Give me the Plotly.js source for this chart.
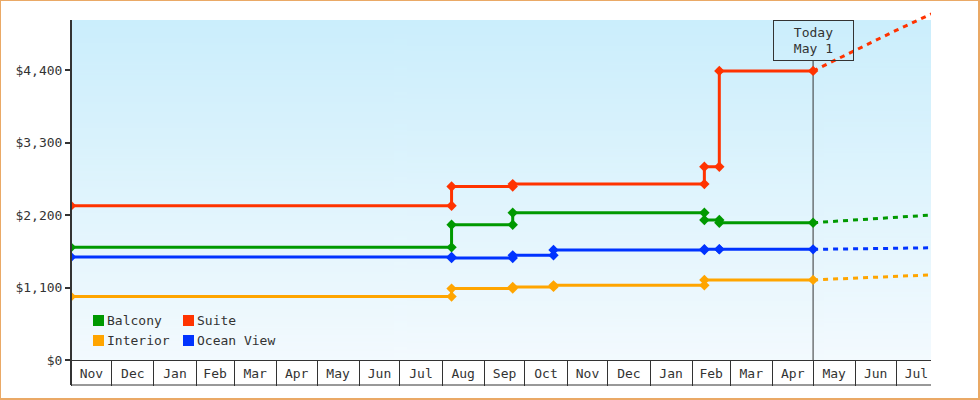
<!DOCTYPE html>
<html>
<head>
<meta charset="utf-8">
<script src="https://cdn.plot.ly/plotly-3.0.1.min.js"></script>
<style>
  body { margin: 0; background: #fff; }
  #wrap { position: relative; width: 980px; height: 400px; }
  #chart { width: 980px; height: 400px; }
  #frame { position: absolute; left: 0; top: 0; right: 0; bottom: 0; box-sizing: border-box;
           border-style: solid; border-color: #eaa966; border-width: 1px 2px 2px 1px; pointer-events: none; }
</style>
</head>
<body>
<div id="wrap"><div id="chart"></div><div id="frame"></div></div>
<script>
// price history, each level starts at its date and holds until the next one (or today)
const seriesNames = ['Balcony', 'Suite', 'Interior', 'Ocean View'];
const seriesColors = ['#009900', '#ff3300', '#ffa500', '#0033ff'];

const balconyDates = ['2013-11-01', '2014-08-08', '2014-09-22', '2015-02-10', '2015-02-21'];
const balconyPrices = [1709, 2053, 2235, 2124, 2083];

const suiteDates = ['2013-11-01', '2014-08-08', '2014-09-22', '2015-02-10', '2015-02-21'];
const suitePrices = [2341, 2633, 2669, 2932, 4386];

const interiorDates = ['2013-11-01', '2014-08-08', '2014-09-22', '2014-10-22', '2015-02-10'];
const interiorPrices = [962, 1083, 1109, 1133, 1215];

const oceanDates = ['2013-11-01', '2014-08-08', '2014-09-22', '2014-10-22', '2015-02-10', '2015-02-21'];
const oceanPrices = [1563, 1548, 1588, 1670, 1682, 1679];

// forecast after today
const today = '2015-05-01';
const todayLabel = 'Today<br>May 1';
const forecastDates = ['2015-05-01', '2015-06-01', '2015-07-01', '2015-07-27'];
const balconyForecast = [2083, 2122, 2162, 2200];
const suiteForecast = [4386, 4704, 5000, 5250];
const interiorForecast = [1215, 1245, 1272, 1292];
const oceanForecast = [1679, 1685, 1690, 1702];

const yTicks = [0, 1100, 2200, 3300, 4400];
const xStart = '2013-11-01';
const xEnd = '2015-07-26 18:00';

const allDates = [balconyDates, suiteDates, interiorDates, oceanDates];
const allPrices = [balconyPrices, suitePrices, interiorPrices, oceanPrices];
const allForecasts = [balconyForecast, suiteForecast, interiorForecast, oceanForecast];

const FONT = 'DejaVu Sans Mono, Liberation Mono, monospace';
const INK = '#333333';

// pixel layout
const W = 980, H = 400;
const mL = 71, mR = 49, mT = 5, mB = 40;
const plotW = W - mL - mR, plotH = H - mT - mB;
const dollarsPerPx = 4400 / 290;
const yMax = plotH * dollarsPerPx;
const bgTop = (plotH - 15) * dollarsPerPx;   // shaded area stops 15px below the top
const boxBottom = (plotH - 55) * dollarsPerPx;
const px2x = px => (px - mL) / plotW;
const px2y = py => (H - mB - py) / plotH;

function stepPoints(dates, prices) {
    const x = [], y = [];
    for (let i = 0; i < dates.length; i++) {
        x.push(dates[i]); y.push(prices[i]);
        x.push(i + 1 < dates.length ? dates[i + 1] : today); y.push(prices[i]);
    }
    return {x, y};
}

const data = [];
seriesNames.forEach((name, i) => {
    data.push({
        x: forecastDates, y: allForecasts[i], mode: 'lines', type: 'scatter',
        line: {color: seriesColors[i], width: 3, dash: '5px,5px'},
        showlegend: false, hoverinfo: 'skip'
    });
});
seriesNames.forEach((name, i) => {
    const p = stepPoints(allDates[i], allPrices[i]);
    data.push({
        x: p.x, y: p.y, name: name, mode: 'lines+markers', type: 'scatter',
        line: {color: seriesColors[i], width: 3},
        marker: {color: seriesColors[i], symbol: 'diamond', size: 8},
        showlegend: false
    });
});

// gradient background of the plot area
const cv = document.createElement('canvas');
cv.width = 4; cv.height = 256;
const ctx = cv.getContext('2d');
const grd = ctx.createLinearGradient(0, 0, 0, 256);
grd.addColorStop(0, '#cbeefc');
grd.addColorStop(1, '#f3fafe');
ctx.fillStyle = grd;
ctx.fillRect(0, 0, 4, 256);

const shapes = [
    // y axis line, running down through the month boxes
    {type: 'line', xref: 'paper', yref: 'paper', x0: 0, x1: 0, y0: px2y(385), y1: bgTop / yMax,
     line: {color: INK, width: 2}},
    // bottom of the month boxes
    {type: 'line', xref: 'paper', yref: 'paper', x0: 0, x1: 1, y0: px2y(385), y1: px2y(385),
     line: {color: INK, width: 1}},
    // today marker
    {type: 'line', xref: 'x', yref: 'y', x0: today, x1: today, y0: 0, y1: boxBottom,
     line: {color: INK, width: 1}, layer: 'below'}
];

const annotations = [{
    xref: 'x', yref: 'y', x: today, y: bgTop, xanchor: 'center', yanchor: 'top',
    text: todayLabel, showarrow: false, align: 'center',
    font: {family: FONT, size: 13, color: INK},
    bordercolor: INK, borderwidth: 1, borderpad: 0, width: 79, height: 39
}];

// legend: two columns of colour squares with names
seriesNames.forEach((name, i) => {
    const col = i % 2, row = Math.floor(i / 2);
    const sx = 93 + col * 90, sy = 315 + row * 20;
    shapes.push({type: 'rect', xref: 'paper', yref: 'paper',
        x0: px2x(sx), x1: px2x(sx + 11), y0: px2y(sy + 11), y1: px2y(sy),
        fillcolor: seriesColors[i], line: {width: 0}});
    annotations.push({xref: 'paper', yref: 'paper', x: px2x(sx + 12), y: px2y(sy + 5.5),
        xanchor: 'left', yanchor: 'middle', text: name, showarrow: false,
        font: {family: FONT, size: 13, color: INK}});
});

const layout = {
    width: W, height: H,
    margin: {l: mL, r: mR, t: mT, b: mB},
    paper_bgcolor: '#ffffff',
    plot_bgcolor: 'rgba(0,0,0,0)',
    font: {family: FONT, size: 13, color: INK},
    showlegend: false,
    xaxis: {
        type: 'date', range: [xStart, xEnd],
        tickmode: 'linear', tick0: xStart, dtick: 'M1',
        tickformat: '%b', ticklabelmode: 'period', ticklabelstandoff: -24,
        ticks: 'outside', ticklen: 25, tickwidth: 1, tickcolor: INK,
        showline: true, linecolor: INK, linewidth: 1,
        showgrid: false, zeroline: false,
        tickfont: {family: FONT, size: 13, color: INK}
    },
    yaxis: {
        range: [0, yMax], tickmode: 'array', tickvals: yTicks, tickformat: '$,',
        ticks: 'outside', ticklen: 5, tickwidth: 2, tickcolor: INK,
        showline: false, showgrid: false, zeroline: false,
        tickfont: {family: FONT, size: 13, color: INK}
    },
    images: [{
        source: cv.toDataURL('image/png'), xref: 'paper', yref: 'paper',
        x: 0, y: bgTop / yMax, sizex: 1, sizey: bgTop / yMax,
        xanchor: 'left', yanchor: 'top', sizing: 'stretch', layer: 'below'
    }],
    shapes: shapes,
    annotations: annotations
};

Plotly.newPlot('chart', data, layout, {displayModeBar: false, staticPlot: true});
</script>
</body>
</html>
